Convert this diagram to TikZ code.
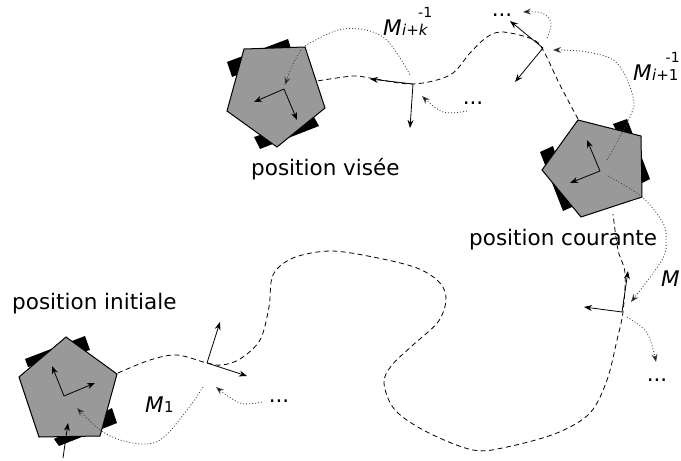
\documentclass[tikz,border=0pt]{standalone}
\usepackage{fontspec}
\setmainfont{DejaVu Sans}
\usetikzlibrary{arrows.meta}
\tikzset{
  body/.style={draw=black,fill=black!40,line width=1pt,line join=miter},
  wheel/.style={fill=black},
  axis/.style={draw=black,line width=0.8pt,-{Stealth[length=8pt,width=6pt]}},
  traj/.style={draw=black,line width=0.8pt,dash pattern=on 5pt off 3.5pt,smooth,tension=0.55},
  link/.style={draw=black!75,line width=0.8pt,dash pattern=on 1pt off 2pt,smooth,tension=0.6},
  linkarrow/.style={link,-{Stealth[length=8pt,width=6pt,fill=black]}},
  lab/.style={anchor=base west,inner sep=0pt,font=\fontsize{21.5}{24}\selectfont},
  mlab/.style={anchor=base west,inner sep=0pt,font=\fontsize{21.5}{24}\selectfont\itshape},
  sub/.style={anchor=base west,inner sep=0pt,font=\fontsize{15}{17}\selectfont},
  sup/.style={anchor=base west,inner sep=0pt,font=\fontsize{14}{16}\selectfont},
  dots/.style={anchor=base,inner sep=0pt,font=\fontsize{21.5}{24}\selectfont}
}
\begin{document}
\begin{tikzpicture}[x=1pt,y=-1pt]
\useasboundingbox (0,0) rectangle (681,461);
% frames origins
\coordinate (f1) at (207,363);
\coordinate (f2) at (413,84);
\coordinate (f3) at (543,48);
\coordinate (f4) at (622,312);
\coordinate (r1) at (64,396);
\coordinate (r2) at (284,89);
\coordinate (r3) at (600,171);
% wheels and bodies
\fill[wheel] (25,359)--(85,336)--(90,350)--(28,367)--cycle;
\fill[wheel] (54,439)--(112,408)--(117,423)--(59,446)--cycle;
\draw[body] (66,337)--(117,374)--(100,436)--(39,437)--(19,377)--cycle;
\fill[wheel] (227,62)--(288,39)--(292,52)--(232,77)--cycle;
\fill[wheel] (254,137)--(314,117)--(319,126)--(260,149)--cycle;
\draw[body] (244,49)--(305,47)--(325,108)--(277,147)--(227,111)--cycle;
\fill[wheel] (613,124)--(627,119)--(650,179)--(642,183)--cycle;
\fill[wheel] (540,152)--(553,146)--(572,207)--(563,211)--cycle;
\draw[body] (578,120)--(641,136)--(642,197)--(581,217)--(542,170)--cycle;
% trajectory
\draw[traj] plot coordinates {(118,373) (150,360) (177,355) (207,363) (222,365) (240,359) (260,340) (269,307) (273,275) (293,258) (330,251) (373,257) (417,268) (440,283) (446,300) (438,322) (413,345) (392,365) (384,383) (395,410) (427,432) (473,450) (507,447) (557,433) (590,413) (607,380) (617,340) (623,312) (625,273) (618,250) (613,214)};
\draw[traj] plot coordinates {(578,119) (560,85) (543,50) (532,39) (503,32) (487,37) (470,53) (450,75) (413,84) (370,78) (353,76) (317,81)};
% axes
\draw[axis] (r1)--(52,366);
\draw[axis] (r1)--(95,383);
\draw[axis] (63,458)--(68,423);
\draw[axis] (f1)--(220,322);
\draw[axis] (f1)--(247,376);
\draw[axis] (r2)--(254,102);
\draw[axis] (r2)--(297,120);
\draw[axis] (f2)--(370,79);
\draw[axis] (f2)--(410,128);
\draw[axis] (f3)--(510,21);
\draw[axis] (f3)--(515,82);
\draw[axis] (r3)--(587,140);
\draw[axis] (r3)--(570,183);
\draw[axis] (f4)--(628,271);
\draw[axis] (f4)--(584,307);
% dotted links
\draw[linkarrow] plot coordinates {(203,387) (187,410) (160,440) (133,443) (103,432) (77,408)};
\draw[linkarrow] plot coordinates {(262,402) (240,403) (216,387)};
\draw[link] plot coordinates {(305,46) (343,29) (383,37) (410,75)};
\draw[linkarrow] plot coordinates {(301,50) (292,66) (285,85)};
\draw[linkarrow] plot coordinates {(467,111) (443,112) (422,96)};
\draw[linkarrow] plot coordinates {(547,38) (551,23) (542,13) (523,12)};
\draw[linkarrow] plot coordinates {(607,160) (630,117) (633,97) (617,63) (587,52) (553,50)};
\draw[linkarrow] plot coordinates {(608,176) (642,197) (663,223) (666,240) (662,260) (631,302)};
\draw[linkarrow] plot coordinates {(627,317) (647,333) (656,362)};
% labels
\node[lab] (t1) at (12,309) {position initiale};
\node[lab] (t2) at (251,175) {position visée};
\node[lab] (t3) at (469,245) {position courante};
\node[mlab] (m1) at (145,412) {M};
\node[sub] (m1s) at (m1.base east) {1};
\node[mlab] (m2) at (383,35) {M};
\node[sub] (m2s) at (m2.base east) {\itshape i\upshape +\itshape k};
\node[sup] (m2u) at (418,17) {-1};
\node[mlab] (m3) at (633,80) {M};
\node[sub] (m3s) at (m3.base east) {\itshape i\upshape +1};
\node[sup] (m3u) at (665.5,62) {-1};
\node[mlab] (m4) at (661,286) {M};
\node[dots] (d1) at (279,402) {...};
\node[dots] (d2) at (473,104) {...};
\node[dots] (d3) at (502,16) {...};
\node[dots] (d4) at (657,381) {...};
\end{tikzpicture}
\end{document}
